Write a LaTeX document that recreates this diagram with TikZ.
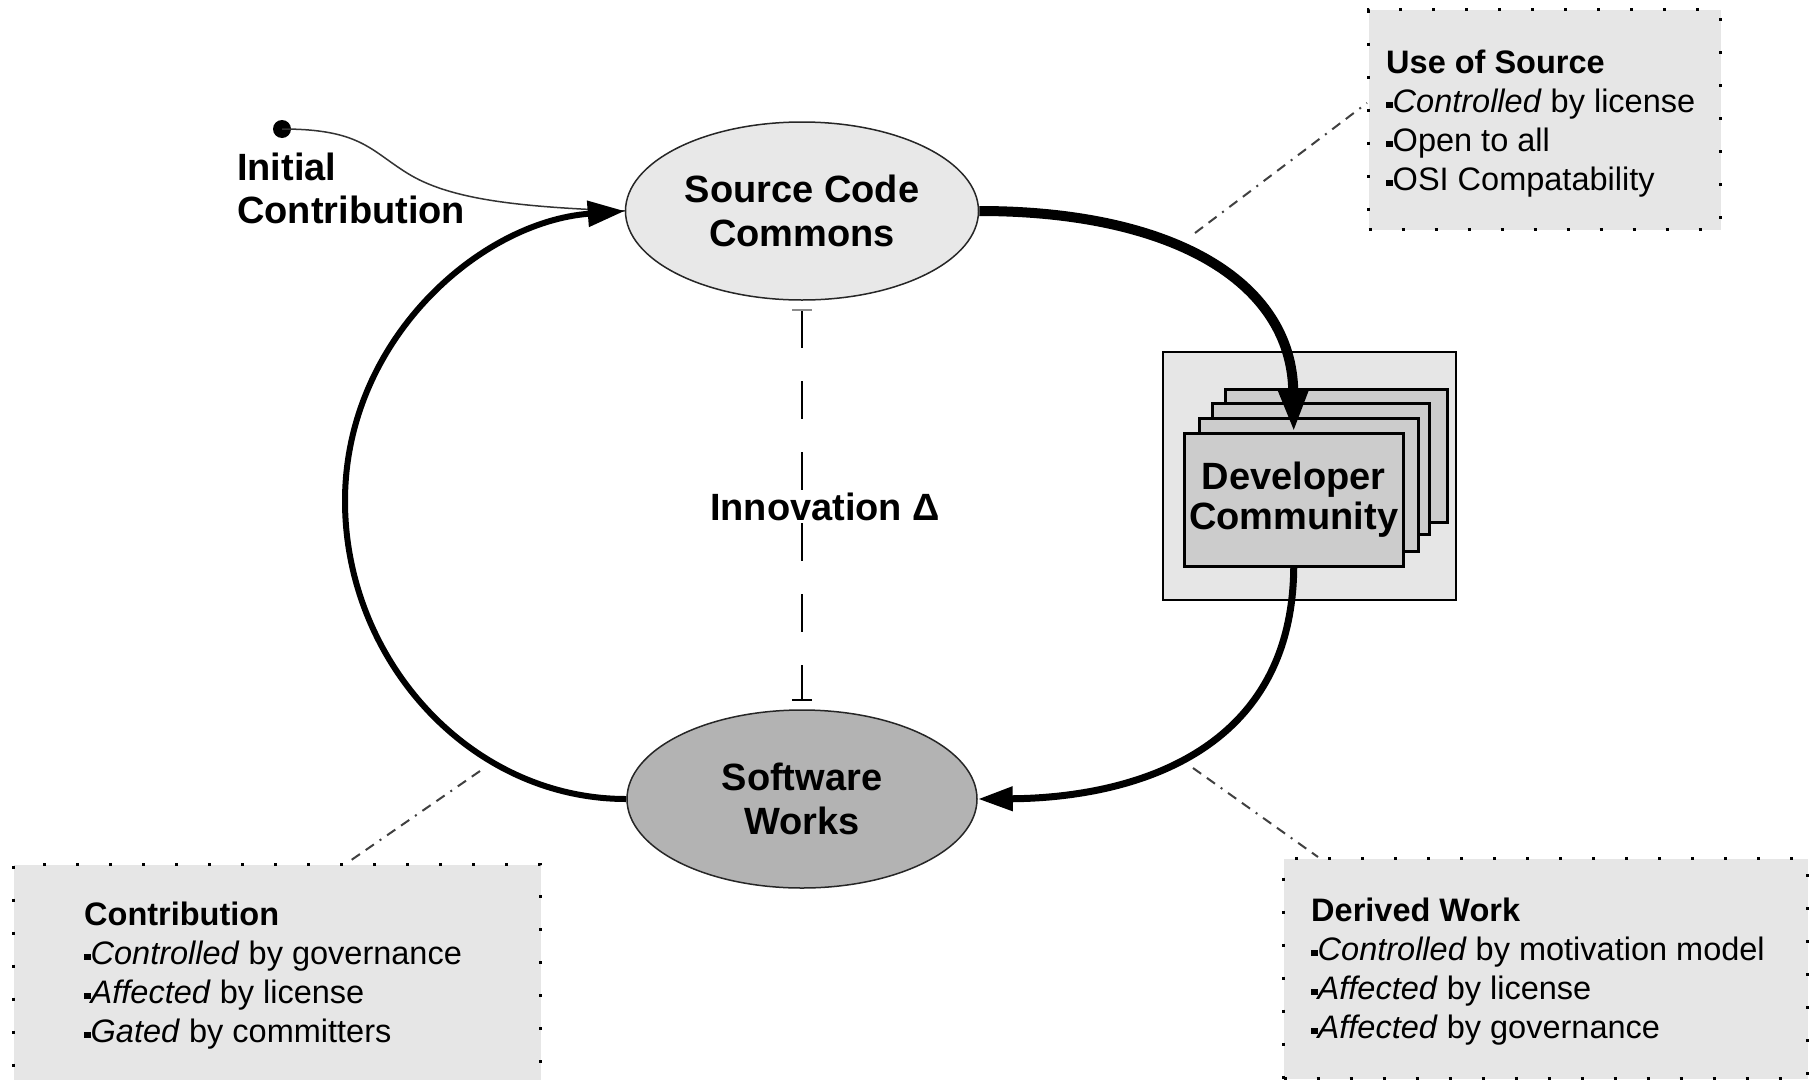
\documentclass[tikz,border=0pt]{standalone}
\usepackage{fontspec}
\setmainfont{Liberation Sans}
\usetikzlibrary{arrows.meta,shapes.geometric,calc}
\newcommand\sqbul{\raisebox{0.12em}{\rule{0.2em}{0.2em}}}
\definecolor{boxgray}{HTML}{E6E6E6}
\definecolor{sccfill}{HTML}{E8E8E8}
\definecolor{swfill}{HTML}{B3B3B3}
\definecolor{cardfill}{HTML}{CCCCCC}
\begin{document}
\begin{tikzpicture}[x=1pt,y=-1pt,
  bigfont/.style={font=\fontsize{38pt}{44pt}\selectfont\bfseries},
  cardfont/.style={font=\fontsize{38pt}{40pt}\selectfont\bfseries},
  boxfont/.style={font=\fontsize{32.5pt}{39pt}\selectfont},
  oval/.style={ellipse, draw=black!85, line width=1.5pt, inner sep=0pt, align=center, bigfont},
  card/.style={draw=black, line width=2.5pt, fill=cardfill, anchor=north west, inner sep=0pt},
  infobox/.style={fill=boxgray, draw=black, line width=3pt, dash pattern=on 3pt off 30pt, anchor=north west, inner sep=0pt},
  flow/.style={draw=black},
  leader/.style={draw=black!75, line width=2pt, dash pattern=on 10pt off 7pt on 10pt off 7pt on 2pt off 7pt},
  txt/.style={anchor=base west, inner sep=0pt}
]
\fill[white] (0,0) rectangle (1809,1079);
\useasboundingbox (0,0) rectangle (1809,1079);

% info boxes
\node[infobox, minimum width=352pt, minimum height=220pt] (usebox) at (1367,8) {};
\node[infobox, minimum width=527pt, minimum height=232pt] (contribbox) at (12,863) {};
\node[infobox, minimum width=524pt, minimum height=220pt] (derivbox) at (1282,857) {};

\node[txt, boxfont] (usetxt) at (1386,73) {\vtop{\hbox{\bfseries Use of Source}\hbox{\sqbul\textit{Controlled} by license}\hbox{\sqbul Open to all}\hbox{\sqbul OSI Compatability}}};
\node[txt, boxfont] (contribtxt) at (84,925) {\vtop{\hbox{\bfseries Contribution}\hbox{\sqbul\textit{Controlled} by governance}\hbox{\sqbul\textit{Affected} by license}\hbox{\sqbul\textit{Gated} by committers}}};
\node[txt, boxfont] (derivtxt) at (1311,921) {\vtop{\hbox{\bfseries Derived Work}\hbox{\sqbul\textit{Controlled} by motivation model}\hbox{\sqbul\textit{Affected} by license}\hbox{\sqbul\textit{Affected} by governance}}};

% ellipses
\node[oval, fill=sccfill, minimum width=353pt, minimum height=178pt] (scc) at (802,211) {Source Code\\Commons};
\node[oval, fill=swfill, minimum width=350pt, minimum height=178pt] (sw) at (802,799) {Software\\Works};

% developer community
\node[draw=black, line width=2pt, fill=boxgray, minimum width=293pt, minimum height=248pt, anchor=north west, inner sep=0pt] (devbg) at (1162,351) {};
\node[card, minimum width=222pt, minimum height=133pt] (card4) at (1224,388) {};
\node[card, minimum width=217pt, minimum height=131pt] (card3) at (1211,402) {};
\node[card, minimum width=219pt, minimum height=133pt] (card2) at (1198,417) {};
\node[card, minimum width=219pt, minimum height=133pt, align=center, cardfont] (card1) at (1183,432) {Developer\\Community};

% innovation delta
\draw[line width=2pt, dash pattern=on 38pt off 33pt, shorten <=8pt, shorten >=8pt,
  {Bar[width=20pt, line width=2pt, color=black!45]}-{Bar[width=20pt, line width=2pt]}] (scc.south) -- (sw.north);
\node[bigfont, inner sep=0pt] (innov) at (825,507) {Innovation Δ};

% initial contribution
\node[circle, fill=black, inner sep=0pt, minimum size=18pt] (dot) at (282,129) {};
\node[txt, font=\fontsize{38pt}{43.5pt}\selectfont\bfseries] (initlbl) at (237,180) {\vtop{\hbox{Initial}\hbox{Contribution}}};
\draw[line width=1.5pt, black!80] (dot.center) .. controls (360,129) and (370,150) .. (407,173) .. controls (450,200) and (520,207) .. (scc.west);

% cycle arrows
\draw[flow, line width=10pt, -{Triangle[length=42pt,width=28pt]}] (scc.east) .. controls (1170,211) and (1292,280) .. (card1.north);
\draw[flow, line width=7pt, -{Triangle[length=35pt,width=23pt]}] (card1.south) .. controls (1292,760) and (1120,798) .. (sw.east);
\draw[flow, line width=6pt, -{Triangle[length=37pt,width=25pt]}] (sw.west) .. controls (470,799) and (345,660) .. (345,501) .. controls (345,340) and (480,222) .. (scc.west);

% leaders
\coordinate (l1) at (1195,233);
\coordinate (l2) at (480,771);
\coordinate (l3) at (1193,768);
\draw[leader] (l1) -- ([yshift=-95pt]usebox.north west);
\draw[leader] (l2) -- ([xshift=335pt]contribbox.north west);
\draw[leader] (l3) -- ([xshift=36pt]derivbox.north west);
\end{tikzpicture}
\end{document}
